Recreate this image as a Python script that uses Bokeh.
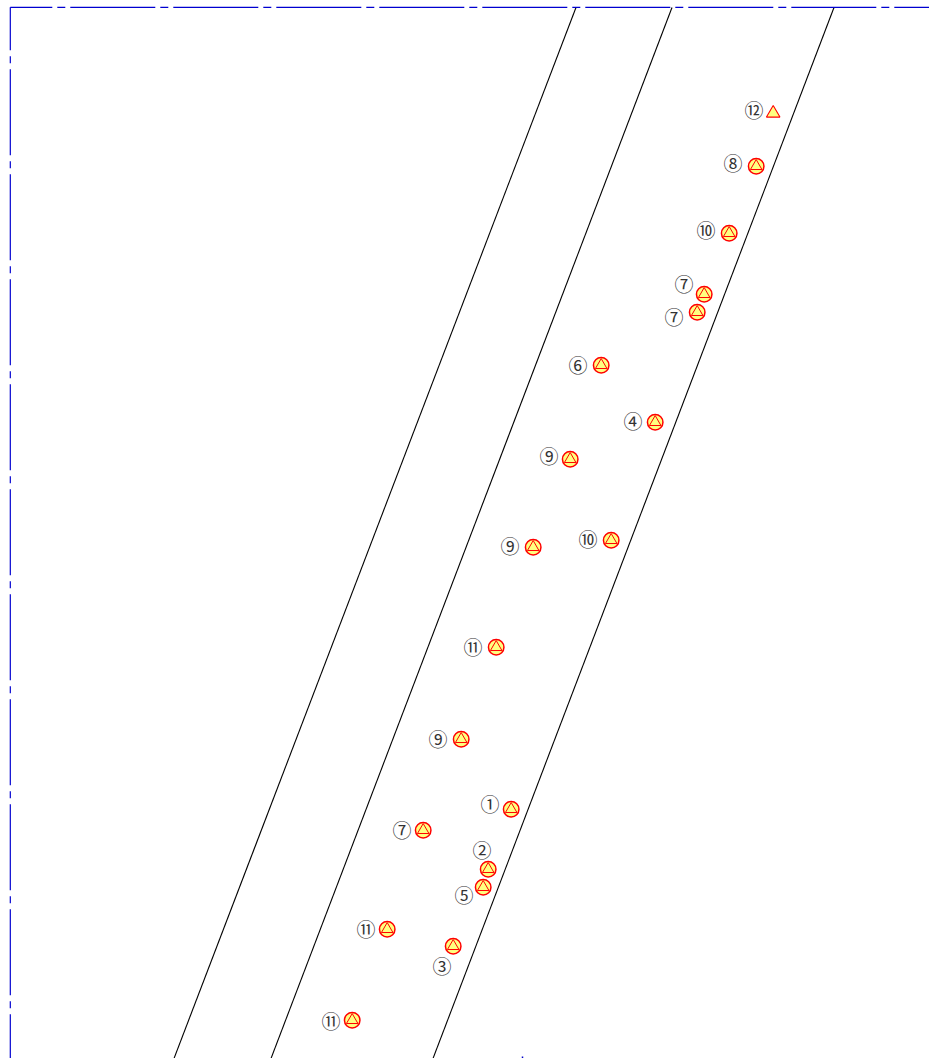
from bokeh.plotting import figure
from bokeh.models import Range1d, ColumnDataSource
from bokeh.core.properties import value
from bokeh.embed import file_html
from bokeh.resources import INLINE

road_x = [[575.5, 173.5], [671.5, 270.5], [833.5, 432.5]]
road_y = [[7, 1058], [7, 1058], [7, 1058]]

border_top_x = [9.8, 935]
border_top_y = [6.8, 6.8]
border_left_x = [9.8, 9.8]
border_left_y = [6.8, 1058]
tick_x = [522, 522]
tick_y = [1056, 1058]

ringed_x = [755.7, 728.7, 703.7, 696.7, 600.7, 654.7, 569.7, 532.7, 610.7, 495.7, 460.7, 510.7, 422.7, 487.7, 482.7, 386.7, 452.7, 351.7]
ringed_y = [165.7, 232.7, 293.7, 311.7, 364.7, 421.7, 458.7, 546.7, 539.7, 646.7, 738.7, 808.7, 829.7, 868.7, 886.7, 928.7, 945.7, 1019.7]
plain_x = [772.7]
plain_y = [112.7]

labels = ["⑫", "⑧", "⑩", "⑦", "⑦", "⑥", "④", "⑨", "⑨", "⑩", "⑪", "⑨", "①", "⑦", "②", "⑤", "⑪", "③", "⑪"]
label_x = [753.5, 732.5, 705.5, 683.5, 673.5, 577.5, 632.5, 548.5, 509.5, 587.5, 472.5, 437.5, 489.5, 401.5, 481.5, 463.5, 365.5, 441.5, 330.5]
label_y = [108.5, 161.5, 228.5, 282.5, 315.5, 363.5, 419.5, 454.5, 544.5, 537.5, 645.5, 737.5, 802.5, 828.5, 848.5, 893.5, 927.5, 964.5, 1019.5]

p = figure(width=929, height=1058, output_backend="svg", toolbar_location=None,
           x_range=Range1d(0, 929), y_range=Range1d(1058, 0), min_border=0,
           background_fill_color="white", border_fill_color="white")
p.styles = {"position": "absolute", "left": "0", "top": "0"}
p.xaxis.visible = False
p.yaxis.visible = False
p.grid.visible = False
p.outline_line_color = None

p.multi_line(road_x, road_y, line_color="black", line_width=1.1)
p.line(border_top_x, border_top_y, line_color="#0000d0", line_width=1.2, line_dash="85 5 8 5", line_dash_offset=43)
p.line(border_left_x, border_left_y, line_color="#0000d0", line_width=1.2, line_dash="86 6 7 6", line_dash_offset=43)
p.line(tick_x, tick_y, line_color="#0000c8", line_width=1.5)

p.scatter(ringed_x, ringed_y, marker="circle", size=15.5, fill_color="#ffff80", line_color="red", line_width=1.5)
p.scatter(ringed_x, ringed_y, marker="triangle", size=11.5, fill_color="#ffff80", line_color="red", line_width=1)
p.scatter(plain_x, plain_y, marker="triangle", size=13.5, fill_color="#ffff80", line_color="red", line_width=1.1)

src = ColumnDataSource(dict(x=label_x, y=label_y, t=labels))
p.text("x", "y", text="t", source=src, text_font=value("Noto Sans CJK JP"), text_font_size="19px",
       text_align="center", text_baseline="middle", text_color="#333333")

open("out.html", "w").write(file_html(p, INLINE))
